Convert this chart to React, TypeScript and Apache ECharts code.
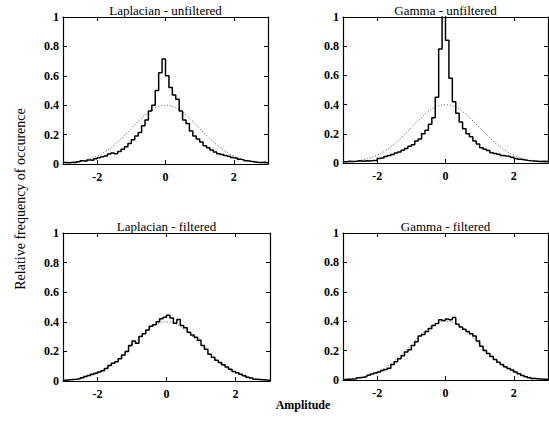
import React, { useEffect, useRef } from "react";
import * as echarts from "echarts";

// Histogram bins: 60 bins of width 0.1 from -3 to 3 (value = relative frequency in each bin)
const laplacianUnfiltered = [
  0.010, 0.008, 0.012, 0.010, 0.015, 0.022, 0.018, 0.028, 0.025, 0.035,
  0.042, 0.050, 0.055, 0.068, 0.075, 0.070, 0.085, 0.100, 0.118, 0.140,
  0.165, 0.190, 0.215, 0.260, 0.300, 0.360, 0.400, 0.500, 0.620, 0.715,
  0.600, 0.520, 0.470, 0.440, 0.360, 0.300, 0.275, 0.225, 0.190, 0.170,
  0.150, 0.125, 0.110, 0.095, 0.082, 0.070, 0.065, 0.058, 0.052, 0.045,
  0.040, 0.032, 0.028, 0.022, 0.018, 0.015, 0.012, 0.010, 0.012, 0.008,
];
const gammaUnfiltered = [
  0.008, 0.012, 0.010, 0.012, 0.015, 0.012, 0.016, 0.014, 0.018, 0.015,
  0.030, 0.035, 0.045, 0.052, 0.058, 0.068, 0.075, 0.088, 0.100, 0.115,
  0.125, 0.150, 0.165, 0.200, 0.225, 0.265, 0.310, 0.450, 0.780, 1.150,
  0.840, 0.580, 0.420, 0.340, 0.280, 0.235, 0.200, 0.180, 0.150, 0.130,
  0.105, 0.095, 0.085, 0.070, 0.065, 0.060, 0.052, 0.048, 0.045, 0.040,
  0.030, 0.025, 0.022, 0.018, 0.015, 0.014, 0.012, 0.010, 0.012, 0.010,
];
const laplacianFiltered = [
  0.005, 0.008, 0.010, 0.012, 0.015, 0.022, 0.030, 0.038, 0.045, 0.052,
  0.060, 0.070, 0.085, 0.105, 0.120, 0.130, 0.150, 0.175, 0.200, 0.240,
  0.270, 0.255, 0.300, 0.320, 0.345, 0.370, 0.380, 0.400, 0.420, 0.430,
  0.445, 0.425, 0.390, 0.415, 0.375, 0.360, 0.330, 0.310, 0.295, 0.275,
  0.240, 0.215, 0.180, 0.160, 0.140, 0.125, 0.110, 0.095, 0.080, 0.065,
  0.055, 0.045, 0.035, 0.025, 0.020, 0.012, 0.010, 0.008, 0.006, 0.005,
];
const gammaFiltered = [
  0.004, 0.005, 0.006, 0.008, 0.015, 0.018, 0.022, 0.032, 0.040, 0.048,
  0.055, 0.065, 0.072, 0.080, 0.105, 0.125, 0.145, 0.165, 0.190, 0.205,
  0.235, 0.260, 0.300, 0.310, 0.330, 0.350, 0.370, 0.385, 0.410, 0.405,
  0.415, 0.410, 0.425, 0.380, 0.360, 0.345, 0.330, 0.315, 0.300, 0.265,
  0.230, 0.200, 0.180, 0.160, 0.140, 0.120, 0.105, 0.090, 0.078, 0.068,
  0.055, 0.042, 0.030, 0.022, 0.015, 0.010, 0.008, 0.006, 0.005, 0.004,
];

// Dotted reference curve (Gaussian), read at these amplitudes
const refX = [
  -3, -2.75, -2.5, -2.25, -2, -1.75, -1.5, -1.25, -1, -0.75, -0.5, -0.25, 0,
  0.25, 0.5, 0.75, 1, 1.25, 1.5, 1.75, 2, 2.25, 2.5, 2.75, 3,
];
const refY = [
  0.004, 0.009, 0.018, 0.032, 0.054, 0.086, 0.130, 0.183, 0.242, 0.301, 0.352, 0.387, 0.399,
  0.387, 0.352, 0.301, 0.242, 0.183, 0.130, 0.086, 0.054, 0.032, 0.018, 0.009, 0.004,
];

const titles = [
  "Laplacian - unfiltered",
  "Gamma - unfiltered",
  "Laplacian - filtered",
  "Gamma - filtered",
];
const xTicks = [-2, 0, 2];
const xMin = -3;
const xMax = 3;
const binWidth = 0.1;

const panels = [
  { data: laplacianUnfiltered, left: 63, top: 17, width: 205, height: 147 },
  { data: gammaUnfiltered, left: 343, top: 17, width: 205, height: 146 },
  { data: laplacianFiltered, left: 63, top: 233, width: 207, height: 148 },
  { data: gammaFiltered, left: 343, top: 233, width: 205, height: 147 },
];

const FONT = "'Liberation Serif', 'Times New Roman', serif";

export default function App() {
  const ref = useRef<HTMLDivElement>(null);
  useEffect(() => {
    if (!ref.current) return;
    const chart = echarts.init(ref.current, undefined, { renderer: "svg" });
    const grid: any[] = [];
    const xAxis: any[] = [];
    const yAxis: any[] = [];
    const series: any[] = [];
    const graphic: any[] = [];
    const lineCol = "#000";
    panels.forEach((p, g) => {
      grid.push({
        left: p.left,
        top: p.top,
        width: p.width,
        height: p.height,
        containLabel: false,
        show: false,
      });
      const xBase = {
        type: "value",
        gridIndex: g,
        min: xMin,
        max: xMax,
        splitLine: { show: false },
        axisLine: { show: true, onZero: false, lineStyle: { color: lineCol, width: 1.2 } },
        axisTick: { show: true, inside: true, length: 4, customValues: xTicks, lineStyle: { color: lineCol } },
      };
      xAxis.push({
        ...xBase,
        position: "bottom",
        axisLabel: {
          customValues: xTicks,
          color: "#000",
          fontFamily: FONT,
          fontWeight: "bold",
          fontSize: 12,
          margin: 7,
        },
      });
      xAxis.push({ ...xBase, position: "top", axisLabel: { show: false } });
      const yBase = {
        type: "value",
        gridIndex: g,
        min: 0,
        max: 1,
        interval: 0.2,
        splitLine: { show: false },
        axisLine: { show: true, onZero: false, lineStyle: { color: lineCol, width: 1.2 } },
        axisTick: { show: true, inside: true, length: 4, lineStyle: { color: lineCol } },
      };
      yAxis.push({
        ...yBase,
        position: "left",
        axisLabel: {
          color: "#000",
          fontFamily: FONT,
          fontWeight: "bold",
          fontSize: 12,
          margin: 4,
        },
      });
      yAxis.push({ ...yBase, position: "right", axisLabel: { show: false } });

      series.push({
        type: "line",
        xAxisIndex: 2 * g,
        yAxisIndex: 2 * g,
        data: refX.map((x, i) => [x, refY[i]]),
        smooth: true,
        showSymbol: false,
        lineStyle: { type: [1, 2], width: 1, color: "#555" },
        z: 2,
      });
      const stepData = p.data.map((v, i) => [xMin + i * binWidth, v]);
      stepData.push([xMax, p.data[p.data.length - 1]]);
      series.push({
        type: "line",
        xAxisIndex: 2 * g,
        yAxisIndex: 2 * g,
        data: stepData,
        step: "end",
        showSymbol: false,
        lineStyle: { width: 1.5, color: "#000" },
        z: 3,
      });
      graphic.push({
        type: "text",
        x: p.left + p.width / 2,
        y: p.top - 7,
        style: {
          text: titles[g],
          fontFamily: FONT,
          fontSize: 13,
          fill: "#000",
          align: "center",
          verticalAlign: "middle",
        },
      });
    });
    graphic.push({
      type: "text",
      x: 20,
      y: 199,
      rotation: Math.PI / 2,
      style: {
        text: "Relative frequency of occurence",
        fontFamily: FONT,
        fontSize: 14,
        fill: "#000",
        align: "center",
        verticalAlign: "middle",
      },
    });
    graphic.push({
      type: "text",
      x: 303,
      y: 405,
      style: {
        text: "Amplitude",
        fontFamily: FONT,
        fontSize: 12,
        fontWeight: "bold",
        fill: "#000",
        align: "center",
        verticalAlign: "middle",
      },
    });
    chart.setOption({
      animation: false,
      backgroundColor: "#fff",
      grid,
      xAxis,
      yAxis,
      series,
      graphic,
    });
    return () => chart.dispose();
  }, []);
  return (
    <div
      ref={ref}
      style={{ position: "absolute", left: 0, top: 0, width: 549, height: 423 }}
    />
  );
}
